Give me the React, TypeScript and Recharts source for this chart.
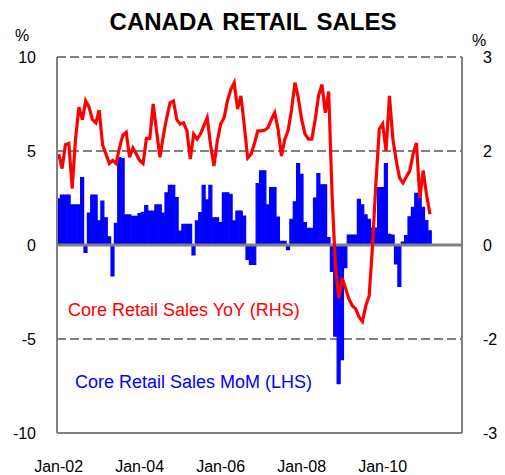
import React from 'react';
import {
  ComposedChart,
  Bar,
  Line,
  XAxis,
  YAxis,
  CartesianGrid,
  ReferenceLine,
} from 'recharts';

const FONT = '"Liberation Sans", Arial, sans-serif';

// monthly categories, Jan-02 .. Dec-11
const monthNames = ['Jan', 'Feb', 'Mar', 'Apr', 'May', 'Jun', 'Jul', 'Aug', 'Sep', 'Oct', 'Nov', 'Dec'];
const years = ['02', '03', '04', '05', '06', '07', '08', '09', '10', '11'];
const months: string[] = years.flatMap((yy) => monthNames.map((m) => `${m}-${yy}`));

const xTicks = ['Jan-02', 'Jan-04', 'Jan-06', 'Jan-08', 'Jan-10'];
const leftTicks = [-10, -5, 0, 5, 10];
const rightTicks = [-3, -1.5, 0, 1.5, 3];

// Core retail sales MoM, % (LHS), Jan-02 .. Mar-11
const momLHS = [
  2.46, 2.66, 2.66, 2.66, 2.13, 2.13, 2.13, 3.58, -0.4, 1.7, 2.66, 2.66,
  1.28, 2.34, 1.45, 0.44, -1.65, 1.15, 4.65, 4.6, 1.6, 1.6, 1.52, 1.52,
  1.67, 1.74, 2.1, 1.8, 1.8, 2.13, 2.13, 1.7, 2.78, 3.17, 3.17, 2.52,
  0.74, 1.1, 1.1, 1.1, -0.53, 1.28, 1.72, 3.17, 2.4, 3.17, 1.45, 1.45,
  1.19, 2.78, 2.78, 2.7, 1.28, 1.8, 1.8, 1.54, -0.76, -1.03, -1.03, 3.26,
  3.94, 3.94, 2.13, 3.05, 3.05, 1.49, 0.2, 0.2, -0.25, 1.37, 2.3, 4.33,
  3.76, 1.19, 0.89, 0.89, 2.5, 3.8, 3.2, 3.2, 0.4, -1.4, -4.85, -7.38,
  -6.1, -1.2, 0.53, 0.53, 0.53, 2.43, 2.13, 1.6, 1.37, 0.9, 0.9, 3.05,
  3.05, 4.33, 0.57, 0.53, -1.0, -2.2, 0.15, 0.5, 1.5, 2.0, 2.75, 2.75,
  2.0, 1.3, 0.75,
];

// Core retail sales YoY, % (RHS), Jan-02 .. Mar-11
const yoyRHS = [
  1.45, 1.22, 1.6, 1.62, 0.9, 1.7, 2.2, 2.0, 2.3, 2.2, 2.0, 1.95,
  2.15, 1.6, 1.45, 1.3, 1.35, 1.3, 1.55, 1.75, 1.8, 1.4, 1.55, 1.45,
  1.35, 1.3, 1.7, 1.7, 2.25, 1.82, 1.4, 1.74, 2.03, 2.27, 2.3, 2.0,
  1.93, 1.95, 1.82, 1.37, 1.77, 1.69, 1.77, 1.9, 2.03, 1.6, 1.26, 1.66,
  1.93, 2.03, 2.3, 2.48, 2.59, 2.17, 2.38, 1.9, 1.39, 1.45, 1.62, 1.82,
  1.82, 1.83, 1.87, 2.0, 2.11, 1.85, 1.42, 1.69, 1.83, 2.16, 2.59, 2.35,
  2.0, 1.77, 1.69, 1.69, 2.0, 2.38, 2.56, 2.11, 2.45, 0.8, -0.34, -0.85,
  -0.53, -0.69, -0.86, -0.97, -1.02, -1.15, -1.22, -0.97, -0.81, 0.0, 1.0, 1.85,
  1.93, 1.5, 2.38, 1.7, 1.35, 1.07, 0.99, 1.09, 1.18, 1.45, 1.63, 0.75,
  1.19, 0.8, 0.49,
];

const data = months.map((month, i) => ({
  month,
  mom: i < momLHS.length ? momLHS[i] : null,
  yoy: i < yoyRHS.length ? yoyRHS[i] : null,
}));

const tickStyle = { fill: '#000', fontSize: 16, fontFamily: FONT };

export default function App() {
  return (
    <div
      style={{
        position: 'absolute',
        left: 0,
        top: 0,
        width: 505,
        height: 475,
        background: '#fff',
        fontFamily: FONT,
      }}
    >
      <div
        style={{
          position: 'absolute',
          left: 0,
          top: 8,
          width: 506,
          textAlign: 'center',
          fontSize: 24,
          lineHeight: '28px',
          fontWeight: 700,
          wordSpacing: 3,
          color: '#000',
        }}
      >
        CANADA RETAIL SALES
      </div>
      <div style={{ position: 'absolute', left: 15, top: 28, fontSize: 16, lineHeight: '16px' }}>%</div>
      <div style={{ position: 'absolute', left: 472, top: 33, fontSize: 16, lineHeight: '16px' }}>%</div>

      <ComposedChart
        width={505}
        height={475}
        data={data}
        barCategoryGap={0}
        barGap={0}
        margin={{ top: 57, right: 3, bottom: 12, left: 17 }}
      >
        <CartesianGrid
          yAxisId="left"
          vertical={false}
          stroke="#808080"
          strokeWidth={2}
          strokeDasharray="9 4"
        />
        <XAxis
          dataKey="month"
          ticks={xTicks}
          interval={0}
          tickLine={false}
          tickSize={0}
          tickMargin={28}
          axisLine={{ stroke: '#808080', strokeWidth: 2 }}
          tick={tickStyle}
          height={30}
        />
        <YAxis
          yAxisId="left"
          domain={[-10, 10]}
          ticks={leftTicks}
          allowDataOverflow
          width={40}
          tickLine={false}
          tickSize={0}
          tickMargin={21}
          axisLine={{ stroke: '#808080', strokeWidth: 2 }}
          tick={tickStyle}
        />
        <YAxis
          yAxisId="right"
          orientation="right"
          domain={[-3, 3]}
          ticks={rightTicks}
          allowDataOverflow
          width={40}
          tickLine={false}
          tickSize={0}
          tickMargin={21}
          axisLine={{ stroke: '#808080', strokeWidth: 2 }}
          tick={tickStyle}
          tickFormatter={(v: number) => Number(v).toFixed(0)}
        />

        {/* MoM bars, left scale */}
        <Bar
          yAxisId="left"
          dataKey="mom"
          fill="#0000FF"
          stroke="#0000FF"
          strokeWidth={1.2}
          isAnimationActive={false}
        />

        {/* x axis crosses at zero */}
        <ReferenceLine yAxisId="left" y={0} stroke="#808080" strokeWidth={3} />

        {/* YoY line, right scale */}
        <Line
          yAxisId="right"
          type="linear"
          dataKey="yoy"
          stroke="#FF0000"
          strokeWidth={3.2}
          dot={false}
          activeDot={false}
          isAnimationActive={false}
        />
      </ComposedChart>

      <div
        style={{
          position: 'absolute',
          left: 68,
          top: 301,
          fontSize: 18,
          lineHeight: '18px',
          color: '#FF0000',
          whiteSpace: 'nowrap',
        }}
      >
        Core Retail Sales YoY (RHS)
      </div>
      <div
        style={{
          position: 'absolute',
          left: 75,
          top: 373,
          fontSize: 18,
          lineHeight: '18px',
          color: '#0000FF',
          whiteSpace: 'nowrap',
        }}
      >
        Core Retail Sales MoM (LHS)
      </div>
    </div>
  );
}
